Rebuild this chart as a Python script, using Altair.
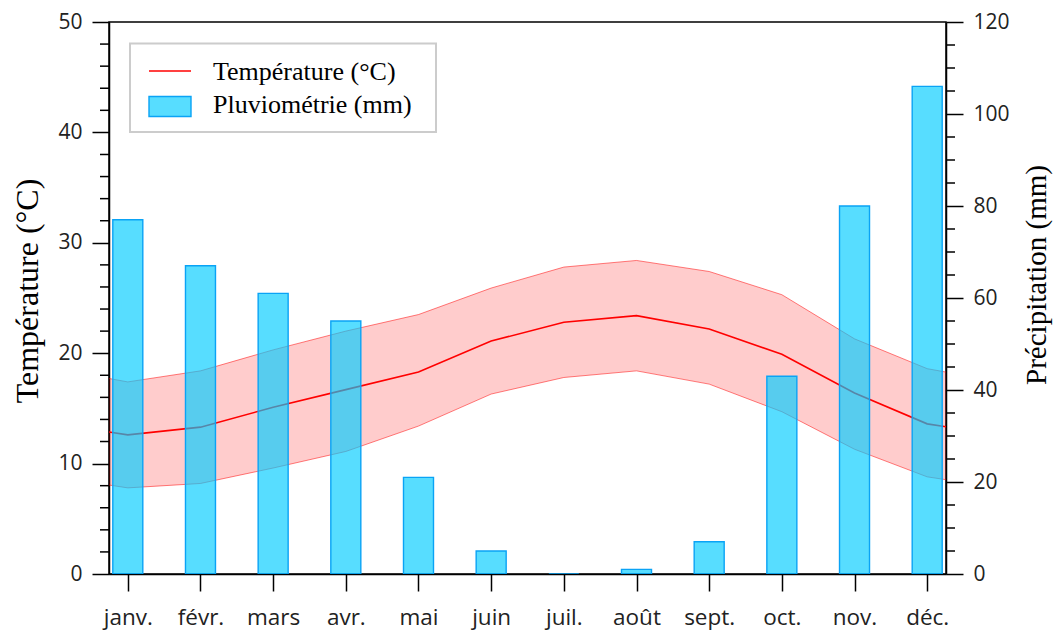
import json
import altair as alt
import pandas as pd

# Monthly climate normals
months = ["janv.", "févr.", "mars", "avr.", "mai", "juin",
          "juil.", "août", "sept.", "oct.", "nov.", "déc."]
temp_mean = [12.6, 13.3, 15.1, 16.7, 18.3, 21.1, 22.8, 23.4, 22.2, 19.9, 16.4, 13.6]
temp_high = [17.4, 18.4, 20.3, 22.0, 23.5, 25.9, 27.8, 28.4, 27.4, 25.3, 21.3, 18.6]
temp_low = [7.8, 8.2, 9.6, 11.1, 13.4, 16.3, 17.8, 18.4, 17.2, 14.7, 11.3, 8.8]
rain = [77, 67, 61, 55, 21, 5, 0, 1, 7, 43, 80, 106]

legend_labels = ["Température (°C)", "Pluviométrie (mm)"]

# Axis ticks: labelled majors and unlabelled minors
temp_major = [0, 10, 20, 30, 40, 50]
temp_minor = [v for v in range(0, 51, 2) if v % 10]
rain_major = [0, 20, 40, 60, 80, 100, 120]
rain_minor = [v for v in range(0, 121, 5) if v % 20]

# Temperature curve wraps around the year (Dec before Jan, Jan after Dec)
wrap = [11] + list(range(12)) + [0]
temp_df = pd.DataFrame({
    "month": list(range(0, 14)),
    "mean": [temp_mean[i] for i in wrap],
    "high": [temp_high[i] for i in wrap],
    "low": [temp_low[i] for i in wrap],
})
rain_df = pd.DataFrame({"month": list(range(1, 13)), "rain": rain})

W, H = 837, 552
SERIF = "Liberation Serif"
SANS = "Open Sans"
MAJOR, MINOR = 17, 9

month_expr = json.dumps(months, ensure_ascii=False) + "[datum.value - 1]"

x_enc = alt.X(
    "month:Q",
    scale=alt.Scale(domain=[0.81, 12.19], nice=False, zero=False),
    axis=alt.Axis(values=list(range(1, 13)), labelExpr=month_expr, tickSize=MAJOR,
                  labelPadding=15, title=None, labelFontSize=22.5),
)

left_axis = alt.Axis(
    orient="left", values=temp_major, tickSize=MAJOR, labelPadding=10,
    title="Température (°C)",
    titleFont=SERIF, titleFontSize=32, titleFontWeight="normal", titleColor="black",
    titleAngle=270, titleAlign="center", titleBaseline="middle",
    titleX=-82, titleY=268.5,
)
right_axis = alt.Axis(
    orient="right", values=rain_major, tickSize=MAJOR, labelPadding=10,
    title="Précipitation (mm)",
    titleFont=SERIF, titleFontSize=29, titleFontWeight="normal", titleColor="black",
    titleAngle=270, titleAlign="center", titleBaseline="middle",
    titleX=90, titleY=252.5,
)

t_scale = alt.Scale(domain=[0, 50], nice=False, zero=True)
r_scale = alt.Scale(domain=[0, 120], nice=False)

band = alt.Chart(temp_df).mark_area(color="red", opacity=0.2, clip=True).encode(
    x=x_enc,
    y=alt.Y("high:Q", scale=t_scale, axis=left_axis),
    y2="low:Q",
)
band_hi = alt.Chart(temp_df).mark_line(color="red", strokeOpacity=0.5, strokeWidth=1, clip=True).encode(
    x=x_enc, y=alt.Y("high:Q", scale=t_scale)
)
band_lo = alt.Chart(temp_df).mark_line(color="red", strokeOpacity=0.5, strokeWidth=1, clip=True).encode(
    x=x_enc, y=alt.Y("low:Q", scale=t_scale)
)
mean_line = alt.Chart(temp_df).mark_line(color="red", strokeWidth=1.6, clip=True).encode(
    x=x_enc, y=alt.Y("mean:Q", scale=t_scale)
)
left_minor = alt.Chart(pd.DataFrame({"v": temp_minor})).mark_rule(
    color="black", strokeWidth=1.5
).encode(x=alt.value(-MINOR), x2=alt.value(0), y=alt.Y("v:Q", scale=t_scale))
temp_layer = alt.layer(band, band_hi, band_lo, mean_line, left_minor)

BAR_FILL = "#00CCFF"
BAR_STROKE = "#0AA3F5"
bars = alt.Chart(rain_df).mark_bar(
    size=30, fill=BAR_FILL, fillOpacity=0.66, stroke=BAR_STROKE, strokeWidth=1.4, clip=True
).encode(
    x=x_enc,
    y=alt.Y("rain:Q", scale=r_scale, axis=right_axis),
)
right_minor = alt.Chart(pd.DataFrame({"v": rain_minor})).mark_rule(
    color="black", strokeWidth=1.5
).encode(x=alt.value(W), x2=alt.value(W + MINOR), y=alt.Y("v:Q", scale=r_scale))
rain_layer = alt.layer(bars, right_minor)

# Legend box drawn inside the plot area
one = pd.DataFrame({"k": [0]})
box = alt.Chart(one).mark_rect(fill="white", fillOpacity=0.85, stroke="#cccccc", strokeWidth=2).encode(
    x=alt.value(21), x2=alt.value(327), y=alt.value(21.5), y2=alt.value(110)
)
sym_line = alt.Chart(one).mark_rule(color="red", strokeWidth=1.6).encode(
    x=alt.value(40), x2=alt.value(82), y=alt.value(49)
)
sym_rect = alt.Chart(one).mark_rect(
    fill=BAR_FILL, fillOpacity=0.66, stroke=BAR_STROKE, strokeWidth=1.4
).encode(x=alt.value(40), x2=alt.value(82), y=alt.value(74.5), y2=alt.value(94.5))


def legend_text(label, baseline_y):
    return alt.Chart(pd.DataFrame({"label": [label]})).mark_text(
        font=SERIF, fontSize=26, align="left", baseline="alphabetic", color="black"
    ).encode(x=alt.value(104), y=alt.value(baseline_y), text="label:N")


legend = alt.layer(box, sym_line, sym_rect,
                   legend_text(legend_labels[0], 58),
                   legend_text(legend_labels[1], 91))

chart = alt.layer(temp_layer, rain_layer, legend).resolve_scale(y="independent").properties(
    width=W, height=H,
    padding={"left": 109, "top": 22, "right": 107, "bottom": 56},
    autosize=alt.AutoSizeParams(type="none"),
    background="white",
).configure_view(
    stroke="black", strokeWidth=1.5
).configure_axis(
    grid=False,
    domainColor="black", domainWidth=1.5,
    tickColor="black", tickWidth=1.5,
    labelFont=SANS, labelFontSize=21, labelColor="#222222",
)

chart.save("out.html", embed_options={"renderer": "svg", "actions": False})
